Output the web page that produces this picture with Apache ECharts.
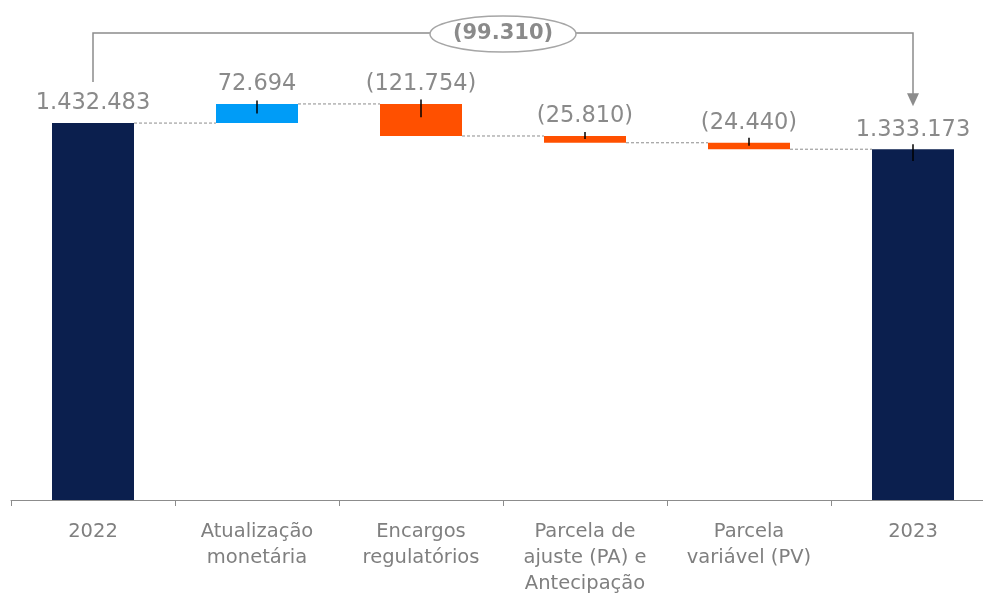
<!DOCTYPE html>
<html><head><meta charset="utf-8">
<script src="https://cdn.jsdelivr.net/npm/echarts@6/dist/echarts.min.js"></script>
<style>html,body{margin:0;padding:0;background:#fff;overflow:hidden;width:983px;height:597px}#c{width:995px;height:597px}</style>
</head><body><div id="c"></div>
<script>
const categories = ['2022','Atualização\nmonetária','Encargos\nregulatórios','Parcela de\najuste (PA) e\nAntecipação','Parcela\nvariável (PV)','2023'];
const values = [1432483, 72694, -121754, -25810, -24440, 1333173];
const isTotal = [true, false, false, false, false, true];
const errPlus = [0, 13000, 17000, 15000, 19000, 19000];
const errMinus = [0, 36000, 51000, 11000, 11000, 45000];

const NAVY = '#0b1f4e', BLUE = '#009cf7', ORANGE = '#ff5000';
function fmt(v){const s=Math.abs(v).toString().replace(/\B(?=(\d{3})+(?!\d))/g,'.');return v<0?'('+s+')':s;}

// waterfall computation
const base=[], vis=[], topVal=[], levelAfter=[];
let run=0;
values.forEach((v,i)=>{
  if(isTotal[i]){ base.push(0); vis.push(v); run=v; topVal.push(v); }
  else { const nr=run+v; base.push(Math.min(run,nr)); vis.push(Math.abs(v)); topVal.push(Math.max(run,nr)); run=nr; }
  levelAfter.push(run);
});
const colors = values.map((v,i)=>isTotal[i]?NAVY:(v>=0?BLUE:ORANGE));

const chart = echarts.init(document.getElementById('c'));
const option = {
  animation:false,
  grid:{left:11, right:0, top:79, bottom:94.5, containLabel:false},
  xAxis:{type:'category', data:categories,
    axisLine:{lineStyle:{color:'#8c8c8c', width:1}},
    axisTick:{show:true, length:6, lineStyle:{color:'#8c8c8c'}},
    axisLabel:{color:'#7f7f7f', fontFamily:'DejaVu Sans', fontSize:19.5, lineHeight:26, margin:19, interval:0}},
  yAxis:{type:'value', min:0, max:1600000, show:false, splitLine:{show:false}},
  series:[
    {type:'bar', stack:'w', data:base, barWidth:'50%', itemStyle:{color:'transparent'}, silent:true},
    {type:'bar', stack:'w', data:vis.map((v,i)=>({value:v, itemStyle:{color:colors[i]}})), barWidth:'50%',
      label:{show:true, position:'top', distance:8, color:'#8a8a8a', fontFamily:'DejaVu Sans', fontSize:22.5,
        formatter:p=>fmt(values[p.dataIndex])}},
    {type:'custom', data:levelAfter.slice(0,-1).map((l,i)=>[i,l]), z:1,
      renderItem:(params,api)=>{
        const p=api.coord([api.value(0),api.value(1)]);
        const w=api.size([1,0])[0];
        return {type:'line', shape:{x1:p[0]+w*0.25, y1:p[1], x2:p[0]+w*0.75, y2:p[1]},
          style:{stroke:'#8c8c8c', lineWidth:1, lineDash:[3,2]}};
      }},
    {type:'custom', data:topVal.map((t,i)=>[i,t-errMinus[i],t+errPlus[i]]).filter((d,i)=>errPlus[i]+errMinus[i]>0), z:5,
      renderItem:(params,api)=>{
        const a=api.coord([api.value(0),api.value(1)]);
        const b=api.coord([api.value(0),api.value(2)]);
        return {type:'line', shape:{x1:a[0], y1:a[1], x2:b[0], y2:b[1]}, style:{stroke:'#000', lineWidth:1.5}};
      }}
  ]
};
chart.setOption(option);

// annotation bracket computed from data
const p0 = chart.convertToPixel({xAxisIndex:0,yAxisIndex:0},[0, topVal[0]]);
const p5 = chart.convertToPixel({xAxisIndex:0,yAxisIndex:0},[5, topVal[5]]);
const yTop = 33;
const midX = (p0[0]+p5[0])/2;
const diff = values[5]-values[0];
const gray = '#8c8c8c';
chart.setOption({graphic:[
  {type:'polyline', shape:{points:[[p0[0],p0[1]-41],[p0[0],yTop],[p5[0],yTop],[p5[0],p5[1]-55]]}, style:{stroke:gray, lineWidth:1.5, fill:null}, z:10},
  {type:'polygon', shape:{points:[[p5[0]-6,p5[1]-56],[p5[0]+6,p5[1]-56],[p5[0],p5[1]-43]]}, style:{fill:gray}, z:10},
  {type:'ellipse', shape:{cx:midX, cy:yTop+1, rx:73, ry:18}, style:{fill:'#fff', stroke:'#a6a6a6', lineWidth:1.5}, z:11},
  {type:'text', x:midX, y:yTop+1, style:{text:fmt(diff), fill:'#8a8a8a', font:'bold 21px "DejaVu Sans"', align:'center', verticalAlign:'middle'}, z:12}
]});
</script></body></html>
